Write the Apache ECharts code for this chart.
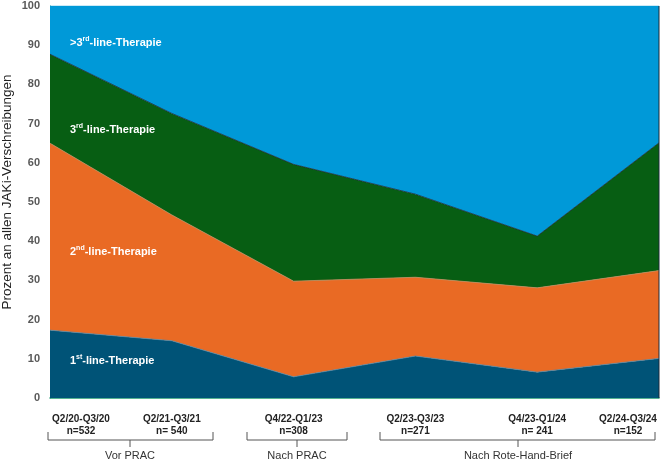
<!DOCTYPE html>
<html>
<head>
<meta charset="utf-8">
<script src="https://cdn.jsdelivr.net/npm/echarts@6/dist/echarts.min.js"></script>
<style>
  html, body { margin: 0; padding: 0; background: #fff; }
  #chart { width: 661px; height: 461px; }
</style>
</head>
<body>
<div id="chart"></div>
<script>
// Zeiträume und Anzahl Verschreibungen
var periods = ["Q2/20-Q3/20", "Q2/21-Q3/21", "Q4/22-Q1/23", "Q2/23-Q3/23", "Q4/23-Q1/24", "Q2/24-Q3/24"];
var counts = ["n=532", "n= 540", "n=308", "n=271", "n= 241", "n=152"];

// Anteile in Prozent (gestapelt)
var firstLine = [17.3, 14.6, 5.4, 10.7, 6.6, 10.1];
var secondLine = [47.7, 32.1, 24.4, 20.1, 21.5, 22.4];
var thirdLine = [22.7, 25.9, 29.8, 21.2, 13.2, 32.6];
var beyondThird = [12.3, 27.4, 40.4, 48.0, 58.7, 34.9];

var yTicks = [0, 10, 20, 30, 40, 50, 60, 70, 80, 90, 100];
var yTitle = "Prozent an allen JAKi-Verschreibungen";

var chart = echarts.init(document.getElementById("chart"));

var labelFont = "Liberation Sans";
var inRich = {
  b: { fontSize: 11, fontWeight: "bold", fill: "#fff", fontFamily: labelFont, lineHeight: 14 },
  s: { fontSize: 7, fontWeight: "bold", fill: "#fff", fontFamily: labelFont, verticalAlign: "top", lineHeight: 14 }
};

function areaLabel(x, y, pre, sup) {
  return {
    type: "text",
    left: x,
    top: y - 7,
    z: 100,
    style: {
      text: "{b|" + pre + "}{s|" + sup + "}{b|-line-Therapie}",
      fill: "#fff",
      rich: inRich
    }
  };
}

function bracket(x1, x2, xm, label) {
  return [
    {
      type: "polyline",
      z: 100,
      shape: { points: [[x1, 432], [x1, 440], [x2, 440], [x2, 432]] },
      style: { stroke: "#555", lineWidth: 1, fill: null }
    },
    {
      type: "line",
      z: 100,
      shape: { x1: xm, y1: 440, x2: xm, y2: 447 },
      style: { stroke: "#555", lineWidth: 1 }
    },
    {
      type: "text",
      x: xm,
      y: 456,
      z: 100,
      style: {
        text: label,
        fontSize: 11,
        fontFamily: labelFont,
        fill: "#333",
        align: "center",
        verticalAlign: "middle"
      }
    }
  ];
}

var graphics = [
  areaLabel(70, 43, ">3", "rd"),
  areaLabel(70, 130, "3", "rd"),
  areaLabel(70, 252, "2", "nd"),
  areaLabel(70, 361, "1", "st"),
  {
    type: "text",
    x: 7,
    y: 192,
    rotation: Math.PI / 2,
    z: 100,
    style: {
      text: yTitle,
      fontSize: 13.5,
      fontFamily: labelFont,
      fill: "#222",
      align: "center",
      verticalAlign: "middle"
    }
  },
  {
    type: "line",
    z: 100,
    shape: { x1: 659, y1: 6, x2: 659, y2: 398 },
    style: { stroke: "#1d2b3a", lineWidth: 1 }
  }
].concat(
  bracket(48, 213, 130, "Vor PRAC"),
  bracket(247, 347, 297, "Nach PRAC"),
  bracket(380, 655, 518, "Nach Rote-Hand-Brief")
);

function areaSeries(name, data, color, lineColor) {
  return {
    name: name,
    type: "line",
    stack: "total",
    data: data,
    symbol: "none",
    smooth: false,
    lineStyle: { width: 0.8, color: lineColor },
    areaStyle: { color: color, opacity: 1 },
    itemStyle: { color: color }
  };
}

var tickRich = { fontSize: 10, fontWeight: "bold", color: "#222", fontFamily: labelFont, lineHeight: 12, width: 62, align: "center" };

chart.setOption({
  animation: false,
  backgroundColor: "#fff",
  grid: { left: 50, right: 2, top: 6, bottom: 63, outerBoundsMode: "none" },
  xAxis: {
    type: "category",
    boundaryGap: false,
    data: periods,
    axisLine: { show: true, lineStyle: { color: "#1f9b6f", width: 1.5 } },
    axisTick: { show: false },
    axisLabel: {
      margin: 15,
      interval: 0,
      alignMinLabel: "left",
      alignMaxLabel: "right",
      formatter: function (v, i) {
        return "{p|" + v + "}\n{n|" + counts[i] + "}";
      },
      rich: { p: tickRich, n: tickRich }
    },
    splitLine: { show: false }
  },
  yAxis: {
    type: "value",
    min: yTicks[0],
    max: yTicks[yTicks.length - 1],
    interval: 10,
    axisLine: { show: true, lineStyle: { color: "#1f9b6f", width: 1 } },
    axisTick: { show: false },
    splitLine: { show: false },
    axisLabel: {
      margin: 10,
      fontSize: 11,
      fontWeight: "bold",
      color: "#595959",
      fontFamily: labelFont
    }
  },
  series: [
    areaSeries("1st-line", firstLine, "#005377", "#4f86a6"),
    areaSeries("2nd-line", secondLine, "#e96a24", "#c98a5a"),
    areaSeries("3rd-line", thirdLine, "#075e13", "#1c2b33"),
    areaSeries(">3rd-line", beyondThird, "#0099d8", "#0099d8")
  ],
  graphic: graphics
});
</script>
</body>
</html>
